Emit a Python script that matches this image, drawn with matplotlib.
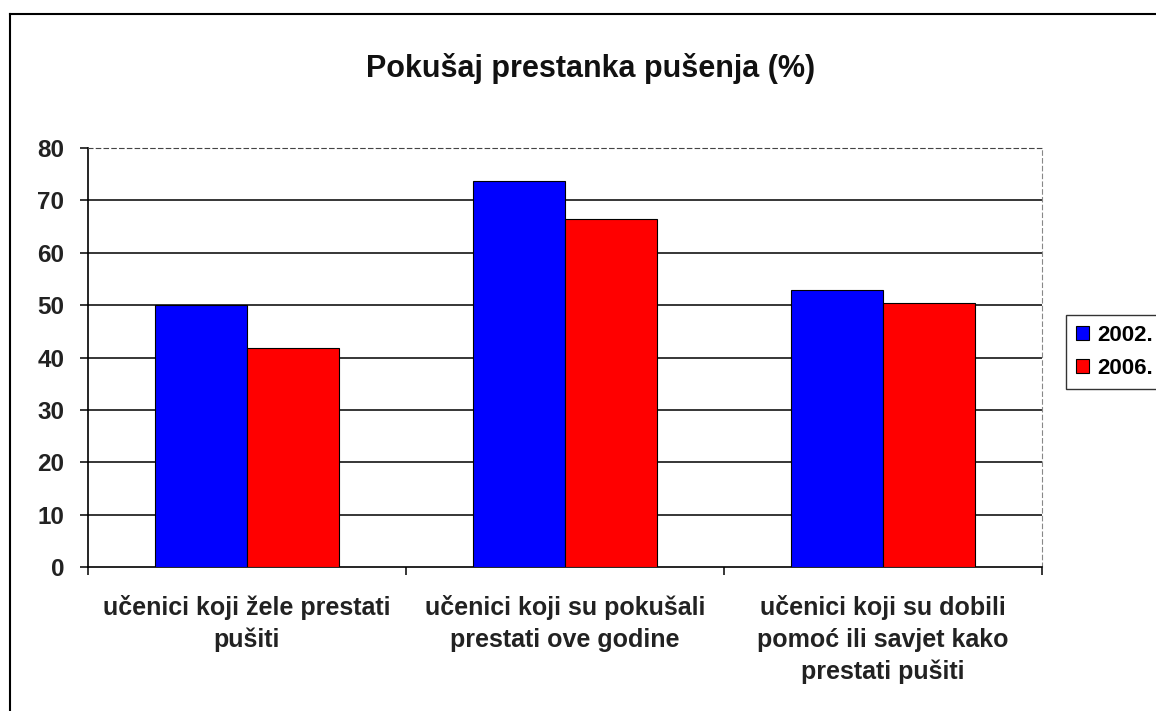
import numpy as np
import matplotlib.pyplot as plt
from matplotlib.lines import Line2D

categories = ["učenici koji žele prestati\npušiti",
              "učenici koji su pokušali\nprestati ove godine",
              "učenici koji su dobili\npomoć ili savjet kako\nprestati pušiti"]
years = ["2002.", "2006."]
vals_2002 = [50.0, 73.7, 52.9]
vals_2006 = [41.8, 66.4, 50.4]
colors = ["#0000FF", "#FF0000"]

plt.rcParams['font.family'] = ['Liberation Sans', 'DejaVu Sans']
plt.rcParams['font.weight'] = 'bold'

W, H = 1156, 711
fig = plt.figure(figsize=(W / 100, H / 100), dpi=100)
ax = fig.add_axes([88 / W, 144 / H, (1042 - 88) / W, (567 - 148) / H])

x = np.arange(len(categories))
w = 0.29
ax.bar(x - w / 2, vals_2002, w, color=colors[0], edgecolor="black", linewidth=0.8,
       label=years[0], zorder=3)
ax.bar(x + w / 2, vals_2006, w, color=colors[1], edgecolor="black", linewidth=0.8,
       label=years[1], zorder=3)

ax.set_xlim(-0.5, 2.5)
ax.set_ylim(0, 80)
ax.set_yticks(np.arange(0, 81, 10))
for v in range(10, 80, 10):
    ax.axhline(v, color="black", linewidth=1.1, zorder=1)

# plot area border: dashed on top/right
ax.spines['top'].set_linestyle((0, (4, 3)))
ax.spines['top'].set_color("#444444")
ax.spines['right'].set_linestyle((0, (4, 3)))
ax.spines['right'].set_color("#888888")
ax.spines['left'].set_linewidth(1.2)
ax.spines['bottom'].set_linewidth(1.2)

ax.tick_params(axis='y', direction='out', length=6, width=1.1, labelsize=17.5, pad=11)
for t in ax.get_yticklabels():
    t.set_color("#222222")
ax.set_xticks([-0.5, 0.5, 1.5, 2.5])
ax.set_xticklabels([])
ax.tick_params(axis='x', which='major', direction='out', length=6, width=1.1)
ax.set_xticks(x, minor=True)
ax.set_xticklabels(categories, minor=True, fontsize=18, color="#222222", linespacing=1.42)
ax.tick_params(axis='x', which='minor', length=0, pad=20)

fig.text(0.511, 1 - 68 / H, "Pokušaj prestanka pušenja (%)", ha="center", va="center",
         fontsize=22, fontweight="bold", color="#111111")

leg = fig.legend(loc="upper left", bbox_to_anchor=(1066 / W, 1 - 315 / H),
                 borderaxespad=0, frameon=True, fancybox=False, edgecolor="black",
                 fontsize=16, handlelength=0.6, handleheight=0.6, handletextpad=0.35,
                 borderpad=0.45, labelspacing=0.55)
leg.get_frame().set_linewidth(1.0)

# outer chart border
fig.add_artist(Line2D([10 / W, 10 / W], [0, 1 - 14 / H], color="black", linewidth=1.5))
fig.add_artist(Line2D([10 / W, 1], [1 - 14 / H, 1 - 14 / H], color="black", linewidth=1.5))

plt.savefig("out.png", dpi=100)
